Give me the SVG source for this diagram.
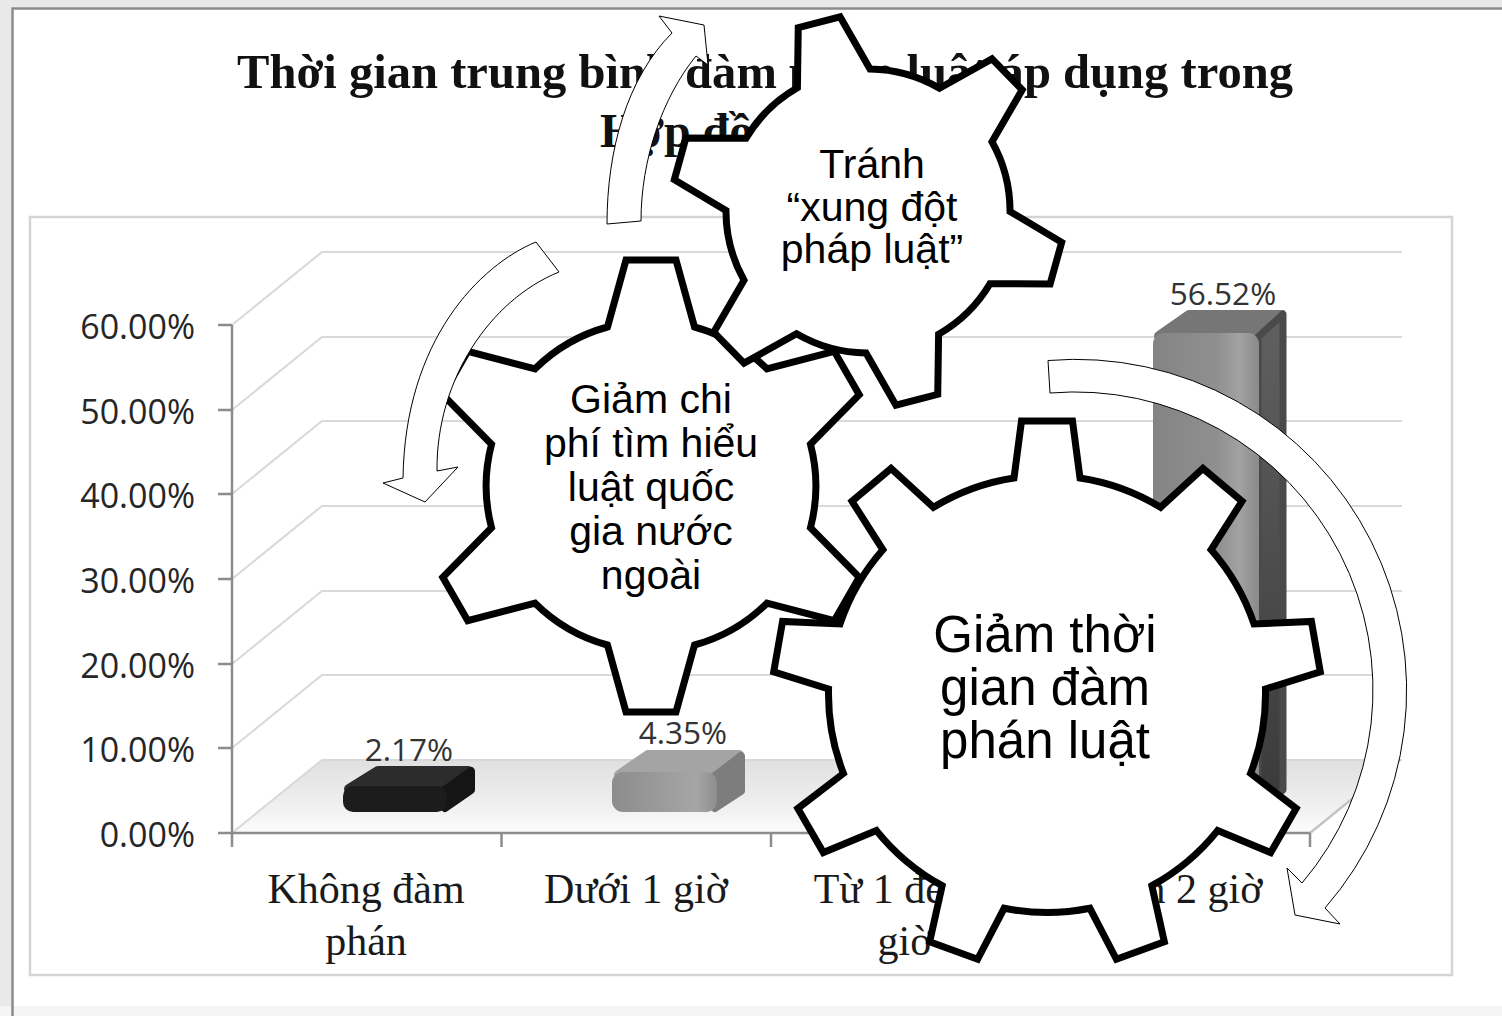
<svg xmlns="http://www.w3.org/2000/svg" width="1502" height="1016" viewBox="0 0 1502 1016">
<defs>
<style>
.grid{stroke:#d9d9d9;stroke-width:2;fill:none}
.axis{stroke:#8c8c8c;stroke-width:2.5;fill:none}
.ylab{font-family:"Open Sans","Noto Sans",sans-serif;font-size:34px;fill:#262626;text-anchor:end}
.dlab{font-family:"Open Sans","Noto Sans",sans-serif;font-size:31.5px;fill:#333;text-anchor:middle}
.cat{font-family:"Liberation Serif","Times New Roman",serif;font-size:42px;fill:#1a1a1a;text-anchor:middle}
.title{font-family:"Liberation Serif","Times New Roman",serif;font-size:48px;font-weight:bold;fill:#111}
.gear{fill:#fff;stroke:#000;stroke-width:7;stroke-linejoin:miter}
.gtxt{font-family:"Liberation Sans",Arial,sans-serif;fill:#000;text-anchor:middle}
.arrow{fill:#fff;stroke:#000;stroke-width:1}
</style>
<linearGradient id="floorG" x1="0" y1="0" x2="0" y2="1">
<stop offset="0" stop-color="#e0e0e0"/>
<stop offset="0.6" stop-color="#efefef"/>
<stop offset="1" stop-color="#fcfcfc"/>
</linearGradient>
<linearGradient id="frontG" x1="0" y1="0" x2="1" y2="0">
<stop offset="0" stop-color="#848484"/>
<stop offset="0.6" stop-color="#8f8f8f"/>
<stop offset="0.82" stop-color="#a2a2a2"/>
<stop offset="1" stop-color="#8a8a8a"/>
</linearGradient>
<linearGradient id="sideG" x1="0" y1="0" x2="0" y2="1">
<stop offset="0" stop-color="#606060"/>
<stop offset="1" stop-color="#3a3a3a"/>
</linearGradient>
<linearGradient id="front2G" x1="0" y1="0" x2="1" y2="0">
<stop offset="0" stop-color="#8c8c8c"/>
<stop offset="0.8" stop-color="#a6a6a6"/>
<stop offset="1" stop-color="#8e8e8e"/>
</linearGradient>
</defs>

<g id="chart">
<rect x="0" y="0" width="1502" height="1016" fill="#ffffff"/>
<rect x="0" y="0" width="1502" height="7" fill="#e9e9e9"/>
<rect x="0" y="0" width="11" height="1016" fill="#e9e9e9"/>
<rect x="0" y="1006" width="1502" height="10" fill="#f5f5f5"/>
<path d="M12.5,1016 L12.5,8.5 L1502,8.5" fill="none" stroke="#8a8a8a" stroke-width="2.5"/>
<rect x="30" y="217" width="1422" height="758" fill="none" stroke="#d4d4d4" stroke-width="2.5"/>

<text class="title" x="237" y="88" textLength="1056" lengthAdjust="spacingAndGlyphs">Thời gian trung bình đàm phán luật áp dụng trong</text>
<text class="title" x="600" y="147">Hợp đồng</text>

<polygon points="232,833 1310,833 1400,760 322,760" fill="url(#floorG)"/>
<path class="grid" d="M232,325 L322,252 L1402,252"/>
<path class="grid" d="M232,410 L322,337 L1402,337"/>
<path class="grid" d="M232,494 L322,421 L1402,421"/>
<path class="grid" d="M232,579 L322,506 L1402,506"/>
<path class="grid" d="M232,664 L322,591 L1402,591"/>
<path class="grid" d="M232,748 L322,675 L1402,675"/>
<path class="grid" d="M232,833 L322,760 L1402,760"/>
<path d="M1310,833 L1400,760" stroke="#c4c4c4" stroke-width="2.5" fill="none"/>

<path class="axis" d="M232,325 L232,833 L1310,833"/>
<path class="axis" d="M218,325 H232 M218,410 H232 M218,494 H232 M218,579 H232 M218,664 H232 M218,748 H232 M218,833 H232"/>
<path class="axis" d="M232,833 V847 M501.5,833 V847 M771,833 V847 M1040.5,833 V847 M1310,833 V847"/>

<text class="ylab" x="195" y="339">60.00%</text>
<text class="ylab" x="195" y="424">50.00%</text>
<text class="ylab" x="195" y="508">40.00%</text>
<text class="ylab" x="195" y="593">30.00%</text>
<text class="ylab" x="195" y="678">20.00%</text>
<text class="ylab" x="195" y="762">10.00%</text>
<text class="ylab" x="195" y="847">0.00%</text>

<g id="bar1">
<path d="M349,789 L378,771 L468,771 L443,789 Z" fill="#2c2c2c" stroke="#2c2c2c" stroke-width="10" stroke-linejoin="round"/>
<path d="M445,790 L471,771 L471,790 L445,808 Z" fill="#151515" stroke="#151515" stroke-width="8" stroke-linejoin="round"/>
<rect x="343" y="786" width="104" height="26" rx="10" fill="#1c1c1c"/>
</g>
<g id="bar2">
<path d="M619,775 L648,755 L739,755 L713,775 Z" fill="#a4a4a4" stroke="#a4a4a4" stroke-width="10" stroke-linejoin="round"/>
<path d="M715,776 L741,756 L741,791 L715,808 Z" fill="#7d7d7d" stroke="#7d7d7d" stroke-width="8" stroke-linejoin="round"/>
<rect x="612" y="772" width="105" height="40" rx="11" fill="url(#front2G)"/>
</g>
<g id="bar4">
<path d="M1159,336 L1189,315 L1281,315 L1256,336 Z" fill="#767676" stroke="#767676" stroke-width="10" stroke-linejoin="round"/>
<path d="M1258,337 L1283,314 L1283,790 L1258,810 Z" fill="url(#sideG)" stroke="#4a4a4a" stroke-width="7" stroke-linejoin="round"/>
<rect x="1153" y="333" width="106" height="479" rx="11" fill="url(#frontG)"/>
</g>

<text class="dlab" x="409" y="761">2.17%</text>
<text class="dlab" x="683" y="744">4.35%</text>
<text class="dlab" x="1223" y="305">56.52%</text>

<text class="cat" x="366" y="903">Không đàm</text>
<text class="cat" x="366" y="955">phán</text>
<text class="cat" x="636" y="903">Dưới 1 giờ</text>
<text class="cat" x="905" y="903">Từ 1 đến 2</text>
<text class="cat" x="905" y="955">giờ</text>
<text class="cat" x="1175" y="903">Trên 2 giờ</text>
</g>

<g id="gear-b">
<path class="gear" d="M607.5,327 L626,260 L676,260 L694.5,327 A164.8,164.8 0 0 1 766.95,368.83 L834.22,351.35 L859.22,394.65 L810.45,444.17 A164.8,164.8 0 0 1 810.45,527.83 L859.22,577.35 L834.22,620.65 L766.95,603.17 A164.8,164.8 0 0 1 694.5,645 L676,712 L626,712 L607.5,645 A164.8,164.8 0 0 1 535.05,603.17 L467.78,620.65 L442.78,577.35 L491.55,527.83 A164.8,164.8 0 0 1 491.55,444.17 L442.78,394.65 L467.78,351.35 L535.05,368.83 A164.8,164.8 0 0 1 607.5,327 Z"/>
<text class="gtxt" font-size="41" x="651" y="413">Giảm chi</text>
<text class="gtxt" font-size="41" x="651" y="457">phí tìm hiểu</text>
<text class="gtxt" font-size="41" x="651" y="501">luật quốc</text>
<text class="gtxt" font-size="41" x="651" y="545">gia nước</text>
<text class="gtxt" font-size="41" x="651" y="589">ngoài</text>
</g>

<g id="gear-a">
<path class="gear" d="M797.4,87.76 L798.26,27.63 L840.08,16.81 L870,68.98 A142,142 0 0 1 939.44,88.23 L991.95,58.91 L1022.23,89.73 L992,141.73 A142,142 0 0 1 1010.03,211.47 L1061.67,242.29 L1050.13,283.91 L989.99,283.75 A142,142 0 0 1 938.6,334.24 L937.74,394.37 L895.92,405.19 L866,353.02 A142,142 0 0 1 796.56,333.77 L744.05,363.09 L713.77,332.27 L744,280.27 A142,142 0 0 1 725.97,210.53 L674.33,179.71 L685.87,138.09 L746.01,138.25 A142,142 0 0 1 797.4,87.76 Z"/>
<text class="gtxt" font-size="41" x="872" y="178">Tránh</text>
<text class="gtxt" font-size="41" x="872" y="221">“xung đột</text>
<text class="gtxt" font-size="41" x="872" y="263">pháp luật”</text>
</g>

<g id="gear-c">
<path class="gear" d="M1014,478 L1021.5,421 L1072.5,421 L1080,478 A218.5,218.5 0 0 1 1160.56,507.33 L1202.95,468.49 L1242.01,501.27 L1211.12,549.75 A218.5,218.5 0 0 1 1253.99,624 L1311.42,621.5 L1320.28,671.72 L1265.45,689 A218.5,218.5 0 0 1 1250.56,773.42 L1296.17,808.42 L1270.67,852.58 L1217.56,830.58 A218.5,218.5 0 0 1 1151.88,885.69 L1164.33,941.82 L1116.41,959.26 L1089.86,908.27 A218.5,218.5 0 0 1 1004.14,908.27 L977.59,959.26 L929.67,941.82 L942.12,885.69 A218.5,218.5 0 0 1 876.44,830.58 L823.33,852.58 L797.83,808.42 L843.44,773.42 A218.5,218.5 0 0 1 828.55,689 L773.72,671.72 L782.58,621.5 L840.01,624 A218.5,218.5 0 0 1 882.88,549.75 L851.99,501.27 L891.05,468.49 L933.44,507.33 A218.5,218.5 0 0 1 1014,478 Z"/>
<text class="gtxt" font-size="51" x="1045" y="652">Giảm thời</text>
<text class="gtxt" font-size="51" x="1045" y="705">gian đàm</text>
<text class="gtxt" font-size="51" x="1045" y="758">phán luật</text>
</g>

<g id="connectors">
<path class="arrow" d="M607,224 C607,150 627,78 672,33 L659,16 L704,25 L708,65 L696,56 C662,98 641,160 641,221 Z"/>
<path class="arrow" d="M536,242 C480,265 405,340 403,478 L383,483 L425,502 L458,467 L437,471 C436,380 490,300 559,272 Z"/>
<path class="arrow" d="M1048,360.5 A331,331 0 0 1 1325,908 L1340,924 L1295,915 L1287,868 L1302,883 A298,298 0 0 0 1050,393 Z"/>
</g>
</svg>
